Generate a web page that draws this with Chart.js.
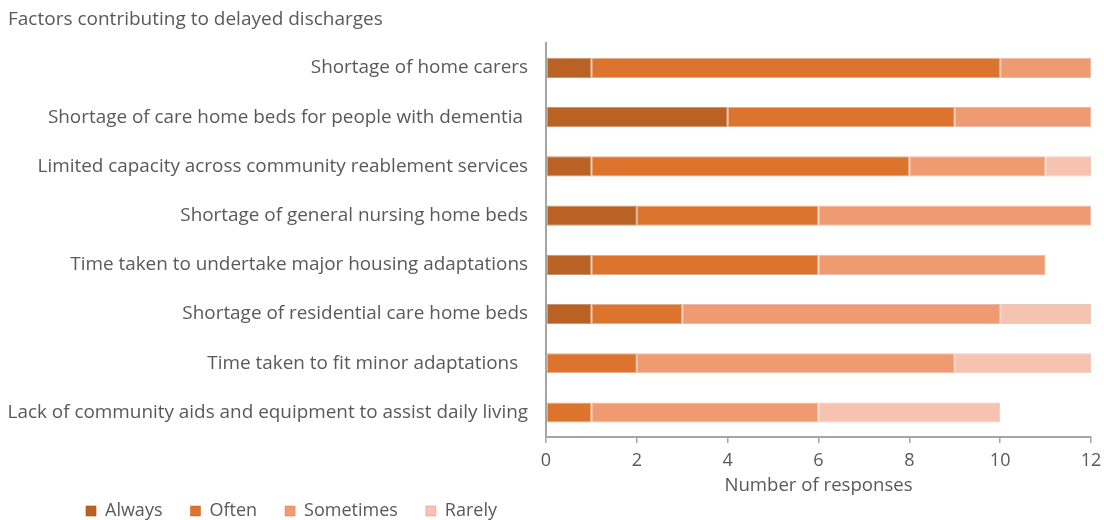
<!DOCTYPE html>
<html>
<head>
<meta charset="utf-8">
<script src="https://cdn.jsdelivr.net/npm/chart.js@4/dist/chart.umd.min.js"></script>
<style>
  html, body { margin: 0; padding: 0; background: #fff; }
  #wrap { width: 1104px; height: 520px; }
</style>
</head>
<body>
<div id="wrap"><canvas id="chart" width="1104" height="520"></canvas></div>
<script>
const categories = [
  'Shortage of home carers',
  'Shortage of care home beds for people with dementia ',
  'Limited capacity across community reablement services',
  'Shortage of general nursing home beds',
  'Time taken to undertake major housing adaptations',
  'Shortage of residential care home beds',
  'Time taken to fit minor adaptations  ',
  'Lack of community aids and equipment to assist daily living'
];
const always = [1, 4, 1, 2, 1, 1, 0, 0];
const often = [9, 5, 7, 4, 5, 2, 2, 1];
const sometimes = [2, 3, 3, 6, 5, 7, 7, 5];
const rarely = [0, 0, 1, 0, 0, 2, 3, 4];
const xTicks = [0, 2, 4, 6, 8, 10, 12];

const textColor = '#595959';
const axisColor = '#A6A6A6';
const fontFamily = "'Open Sans', 'Noto Sans', sans-serif";

// the legend sits low and to the left in the original, keep its box short
const legendShift = {
  id: 'legendShift',
  beforeLayout(chart) {
    const lg = chart.legend;
    if (lg && !lg._patched) {
      const fit = lg.fit.bind(lg);
      lg.fit = function () {
        fit();
        this.height = 23;
      };
      lg._patched = true;
    }
  },
  beforeDraw(chart) {
    if (chart.legend) {
      chart.legend.left = 58;
      chart.legend.top = 474;
    }
  }
};

function series(label, data, color, border) {
  return {
    label: label,
    data: data,
    backgroundColor: color,
    borderColor: border,
    borderWidth: 1,
    borderSkipped: false,
    categoryPercentage: 1,
    barPercentage: 0.41
  };
}

new Chart(document.getElementById('chart'), {
  type: 'bar',
  data: {
    labels: categories,
    datasets: [
      series('Always', always, '#BA6224', 'rgba(160,80,30,0.6)'),
      series('Often', often, '#DD742D', 'rgba(190,95,35,0.5)'),
      series('Sometimes', sometimes, '#F09A72', 'rgba(210,120,90,0.5)'),
      series('Rarely', rarely, '#F5C3B0', 'rgba(215,150,130,0.5)')
    ]
  },
  plugins: [legendShift],
  options: {
    indexAxis: 'y',
    responsive: false,
    animation: false,
    layout: { padding: { left: 8, right: 13, top: 4, bottom: 0 } },
    plugins: {
      title: {
        display: true,
        text: 'Factors contributing to delayed discharges',
        align: 'start',
        color: textColor,
        font: { family: fontFamily, size: 19, weight: 'normal' },
        padding: { top: 4, bottom: 12.5 }
      },
      legend: {
        position: 'bottom',
        align: 'start',
        labels: {
          color: textColor,
          font: { family: fontFamily, size: 18 },
          boxWidth: 10,
          boxHeight: 10,
          padding: 28
        }
      },
      tooltip: { enabled: false }
    },
    scales: {
      x: {
        stacked: true,
        min: 0,
        max: 12,
        afterBuildTicks(scale) {
          scale.ticks = xTicks.map(v => ({ value: v }));
        },
        afterFit(scale) {
          scale.paddingRight = 0;
        },
        grid: {
          drawOnChartArea: false,
          drawTicks: true,
          tickLength: 6,
          color: axisColor,
          lineWidth: 1.5
        },
        border: { color: axisColor, width: 2 },
        ticks: {
          color: textColor,
          font: { family: fontFamily, size: 18 },
          padding: 7,
          maxRotation: 0
        },
        title: {
          display: true,
          text: 'Number of responses',
          color: textColor,
          font: { family: fontFamily, size: 18.6 },
          padding: { top: -4, bottom: 0 }
        }
      },
      y: {
        stacked: true,
        afterFit(scale) {
          scale.width = 538;
        },
        grid: { display: false, drawTicks: false },
        border: { color: axisColor, width: 2 },
        ticks: {
          color: textColor,
          font: { family: fontFamily, size: 18.9 },
          padding: 18,
          autoSkip: false
        }
      }
    }
  }
});
</script>
</body>
</html>
